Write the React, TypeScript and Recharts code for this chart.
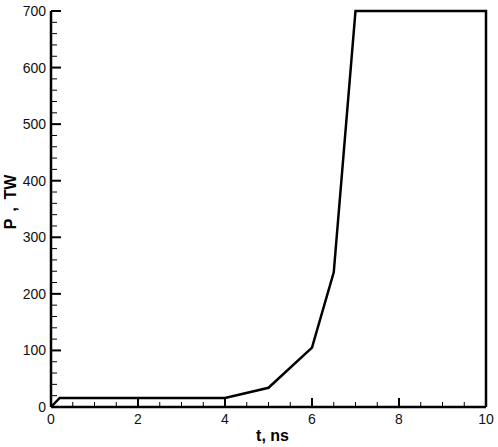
import React from "react";
import { LineChart, Line, XAxis, YAxis, Label } from "recharts";

const tValues = [0, 0.2, 4, 5, 6, 6.5, 7, 10, 10];
const pValues = [0, 16, 16, 34, 105, 238, 700, 700, 0];

const xTicks = [0, 0.5, 1, 1.5, 2, 2.5, 3, 3.5, 4, 4.5, 5, 5.5, 6, 6.5, 7, 7.5, 8, 8.5, 9, 9.5, 10];
const xMajor = [0, 2, 4, 6, 8, 10];
const yTicks = [
  0, 20, 40, 60, 80, 100, 120, 140, 160, 180, 200, 220, 240, 260, 280, 300, 320, 340,
  360, 380, 400, 420, 440, 460, 480, 500, 520, 540, 560, 580, 600, 620, 640, 660, 680, 700,
];
const yMajor = [0, 100, 200, 300, 400, 500, 600, 700];

const xLabel = "t, ns";
const yLabel = "P , TW";

const data = tValues.map((t, i) => ({ t, p: pValues[i] }));

const FONT = "'Liberation Sans', Arial, Helvetica, sans-serif";

const XTick = (props: any) => {
  const { x, y, payload } = props;
  const v = payload.value;
  const major = xMajor.includes(v);
  return (
    <g>
      <line x1={x} x2={x} y1={y} y2={y - (major ? 9 : 5)} stroke="#000" strokeWidth={major ? 2 : 1} />
      {major && (
        <text x={x} y={y + 17} textAnchor="middle" fontSize={14} fontFamily={FONT} fill="#111">
          {v}
        </text>
      )}
    </g>
  );
};

const YTick = (props: any) => {
  const { x, y, payload } = props;
  const v = payload.value;
  const major = yMajor.includes(v);
  return (
    <g>
      <line x1={x} x2={x + (major ? 10 : 6)} y1={y} y2={y} stroke="#000" strokeWidth={major ? 2 : 1} />
      {major && (
        <text x={x - 5} y={y + 5} textAnchor="end" fontSize={14} fontFamily={FONT} fill="#111">
          {v}
        </text>
      )}
    </g>
  );
};

const XLabelContent = (props: any) => {
  const { viewBox } = props;
  const cx = viewBox.x + viewBox.width / 2 + 4;
  return (
    <text x={cx} y={viewBox.y + 34} textAnchor="middle" fontSize={16} fontWeight="bold" fontFamily={FONT} fill="#000">
      {xLabel}
    </text>
  );
};

const YLabelContent = (props: any) => {
  const { viewBox } = props;
  const cy = viewBox.y + viewBox.height / 2 - 7;
  const cx = 16;
  return (
    <text
      x={cx}
      y={cy}
      transform={`rotate(-90 ${cx} ${cy})`}
      textAnchor="middle"
      fontSize={16}
      fontWeight="bold"
      fontFamily={FONT}
      fill="#000"
      style={{ wordSpacing: "3px", whiteSpace: "pre" }}
    >
      {yLabel}
    </text>
  );
};

export default function App() {
  return (
    <div style={{ position: "absolute", left: 0, top: 0, background: "#fff" }}>
      <LineChart width={498} height={447} data={data} margin={{ top: 11, right: 12, left: 0, bottom: 0 }}>
        <XAxis
          dataKey="t"
          type="number"
          domain={[0, 10]}
          ticks={xTicks}
          interval={0}
          tick={<XTick />}
          tickSize={0}
          tickMargin={0}
          tickLine={false}
          height={40}
          axisLine={{ stroke: "#000", strokeWidth: 2.5 }}
        >
          <Label content={<XLabelContent />} />
        </XAxis>
        <YAxis
          type="number"
          domain={[0, 700]}
          ticks={yTicks}
          interval={0}
          tick={<YTick />}
          tickSize={0}
          tickMargin={0}
          tickLine={false}
          width={51}
          axisLine={{ stroke: "#000", strokeWidth: 2.5 }}
        >
          <Label content={<YLabelContent />} />
        </YAxis>
        <Line
          dataKey="p"
          type="linear"
          stroke="#000"
          strokeWidth={2.5}
          dot={false}
          activeDot={false}
          isAnimationActive={false}
        />
      </LineChart>
    </div>
  );
}
